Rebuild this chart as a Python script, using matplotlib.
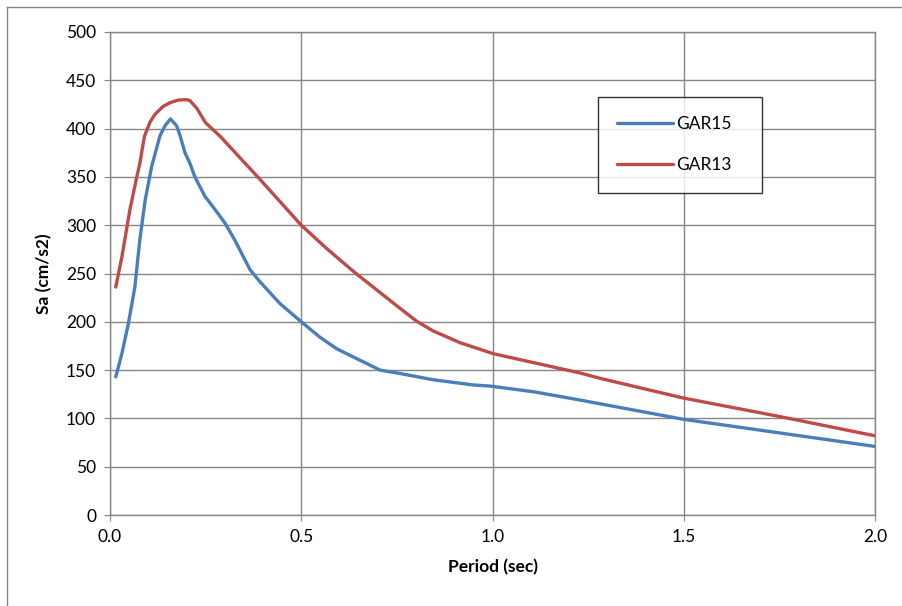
import matplotlib.pyplot as plt
from matplotlib.lines import Line2D

# GAR15 response spectrum (blue)
gar15_t = [0.015, 0.031, 0.048, 0.065, 0.078, 0.092, 0.109, 0.131, 0.144, 0.158,
           0.174, 0.183, 0.196, 0.209, 0.222, 0.248, 0.275, 0.301, 0.327, 0.366,
           0.392, 0.444, 0.5, 0.549, 0.593, 0.706, 0.758, 0.845, 0.95, 0.993,
           1.107, 1.229, 1.5, 1.75, 2.0]
gar15_sa = [143, 167, 198, 236, 285, 326, 361, 393, 403, 410,
            403, 393, 375, 364, 350, 330, 316, 302, 284, 254,
            241.5, 219, 200, 184, 172, 150, 146.5, 140, 134.6, 133.5,
            127.6, 119, 99, 85, 71]

# GAR13 response spectrum (red)
gar13_t = [0.015, 0.031, 0.052, 0.07, 0.078, 0.09, 0.105, 0.118, 0.139, 0.158,
           0.178, 0.2, 0.209, 0.227, 0.25, 0.288, 0.33, 0.392, 0.5, 0.566,
           0.64, 0.758, 0.802, 0.845, 0.88, 0.915, 1.002, 1.229, 1.281, 1.5,
           1.75, 2.0]
gar13_sa = [236, 267, 316, 350, 364, 392, 407, 415, 423, 427,
            429.5, 430, 429, 421, 406, 392, 374, 347.5, 300, 276,
            251, 214, 200.5, 190.5, 184.5, 178.4, 167, 147, 141.5, 121,
            102, 82]

x_ticks = [0.0, 0.5, 1.0, 1.5, 2.0]
y_ticks = list(range(0, 501, 50))

plt.rcParams["font.family"] = ["Lato", "DejaVu Sans"]

fig = plt.figure(figsize=(9.02, 6.06), dpi=100)
ax = fig.add_axes([110 / 902, 91 / 606, 765 / 902, 483 / 606])

blue = "#4A7EBB"
red = "#BE4B48"
ax.plot(gar15_t, gar15_sa, color=blue, lw=2.4, label="GAR15",
        solid_capstyle="round", solid_joinstyle="round")
ax.plot(gar13_t, gar13_sa, color=red, lw=2.4, label="GAR13",
        solid_capstyle="round", solid_joinstyle="round")

ax.set_xlim(0, 2.0)
ax.set_ylim(0, 500)
ax.set_xticks(x_ticks)
ax.set_xticklabels([f"{v:.1f}" for v in x_ticks])
ax.set_yticks(y_ticks)
ax.grid(True, color="#868686", lw=1.0)
ax.set_axisbelow(True)
for s in ax.spines.values():
    s.set_color("#868686")
    s.set_linewidth(1.0)
ax.tick_params(direction="out", length=4, color="#868686", labelsize=12.5, pad=6)

ax.set_xlabel("Period (sec)", fontsize=12.5, fontweight="bold", labelpad=10)
ax.set_ylabel("Sa (cm/s2)", fontsize=12.5, fontweight="bold", labelpad=10)

leg = ax.legend(loc="upper left", bbox_to_anchor=(0.638, 0.665, 0.214, 0.2),
                mode="expand", frameon=True, fancybox=False, edgecolor="black",
                fontsize=12.5, borderpad=1.1, labelspacing=1.45, handlelength=3.2,
                handletextpad=0.2, borderaxespad=0)
leg.get_frame().set_linewidth(1.0)

# outer chart border
fig.add_artist(Line2D([7 / 902, 7 / 902], [0, 1 - 7 / 606], color="#868686", lw=1))
fig.add_artist(Line2D([7 / 902, 1], [1 - 7 / 606, 1 - 7 / 606], color="#868686", lw=1))

fig.savefig("out.png", dpi=100)
